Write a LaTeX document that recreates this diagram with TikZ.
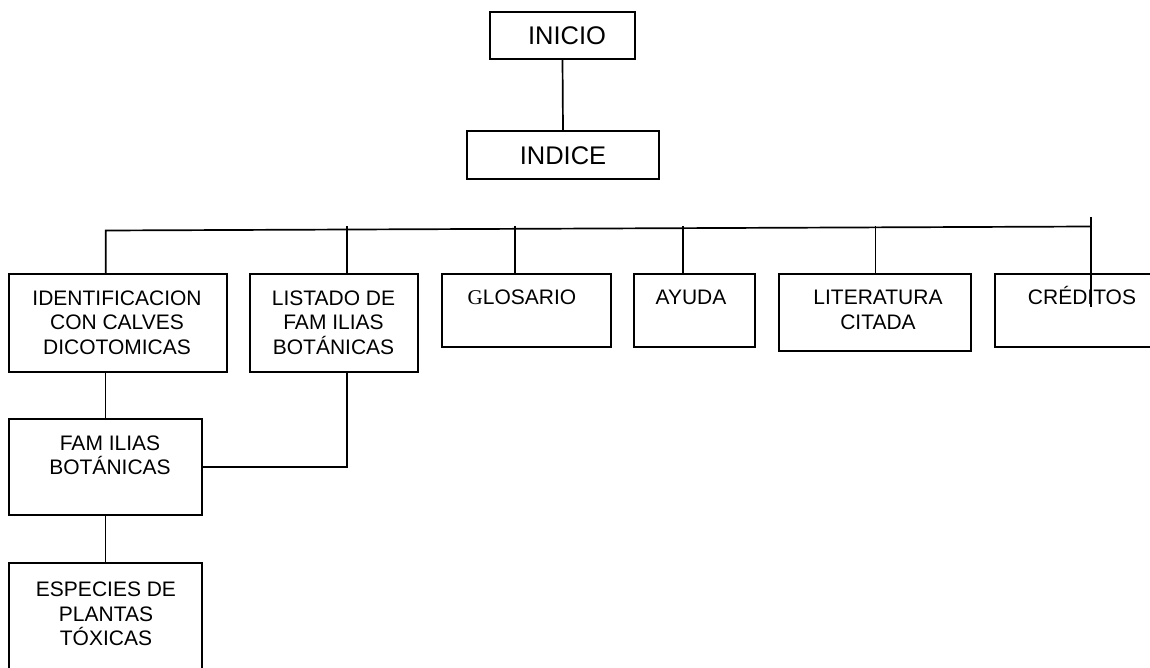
\documentclass[tikz,border=0pt]{standalone}
\usepackage{fontspec}
\setmainfont{Liberation Sans}
\newfontfamily\serifG{Liberation Serif}
\begin{document}
\begin{tikzpicture}[x=1pt,y=-1pt,
  box/.style={draw=black, line width=1.9pt, rectangle, inner sep=0pt},
  txt/.style={inner sep=0pt, align=center, font=\fontsize{21}{24.5}\selectfont},
  bigtxt/.style={inner sep=0pt, font=\fontsize{25.5}{30}\selectfont},
  link/.style={draw=black, line width=1.7pt}]
\useasboundingbox (0,0) rectangle (1150,668);
\clip (0,0) rectangle (1150,668);
\fill[white] (0,0) rectangle (1150,668);
% boxes
\node[box, minimum width=145pt, minimum height=47pt] (inicio) at (562.5,35.5) {};
\node[box, minimum width=192pt, minimum height=48pt] (indice) at (563,155) {};
\node[box, minimum width=218pt, minimum height=98pt] (ident) at (118,323) {};
\node[box, minimum width=168pt, minimum height=98pt] (listado) at (334,323) {};
\node[box, minimum width=169pt, minimum height=73pt] (glos) at (526.5,310.5) {};
\node[box, minimum width=121pt, minimum height=73pt] (ayuda) at (694.5,310.5) {};
\node[box, minimum width=192pt, minimum height=77pt] (lit) at (875,312.5) {};
\node[box, minimum width=170pt, minimum height=73pt] (cred) at (1080,310.5) {};
\node[box, minimum width=193pt, minimum height=96pt] (fam) at (105.5,467) {};
\node[box, minimum width=193pt, minimum height=137pt] (esp) at (105.5,631.5) {};
% texts
\node[bigtxt] (tinicio) at (567,36) {INICIO};
\node[bigtxt] (tindice) at (563,156) {INDICE};
\node[txt] (tident) at (117,322.5) {IDENTIFICACION\\CON CALVES\\DICOTOMICAS};
\node[txt] (tlistado) at (333.5,322.5) {LISTADO DE\\FAM ILIAS\\BOTÁNICAS};
\node[txt] (tglos) at (522,297) {{\serifG G}LOSARIO};
\node[txt] (tayuda) at (691,297) {AYUDA};
\node[txt] (tlit) at (878,310) {LITERATURA\\CITADA};
\node[txt, anchor=base] (tcred) at (1082,304.4) {CRÉDITOS};
\node[txt] (tfam) at (110,455.5) {FAM ILIAS\\BOTÁNICAS};
\node[txt] (tesp) at (106,614) {ESPECIES DE\\PLANTAS\\TÓXICAS};
% connector points
\coordinate (busL) at (105.7,230.5);
\coordinate (busR) at (1091,226.5);
\coordinate (d2) at (346.7,226);
\coordinate (d3) at (514.7,226);
\coordinate (d4) at (683,226);
\coordinate (d5) at (875.6,226);
\coordinate (tickT) at (1091,217);
\coordinate (tickB) at (1091,307);
% connectors
\draw[link] (inicio.south) -- (indice.north);
\draw[link] (busL |- ident.north) -- (busL) -- (busR);
\draw[link] (d2) -- (d2 |- listado.north);
\draw[link] (d3) -- (d3 |- glos.north);
\draw[link] (d4) -- (d4 |- ayuda.north);
\draw[link] (d5) -- (d5 |- lit.north);
\draw[link] (tickT) -- (tickB);
\draw[link] (fam.north) -- (fam.north |- ident.south);
\draw[link] (fam.south) -- (esp.north);
\draw[link] (fam.east) -| (d2 |- listado.south);
\end{tikzpicture}
\end{document}
